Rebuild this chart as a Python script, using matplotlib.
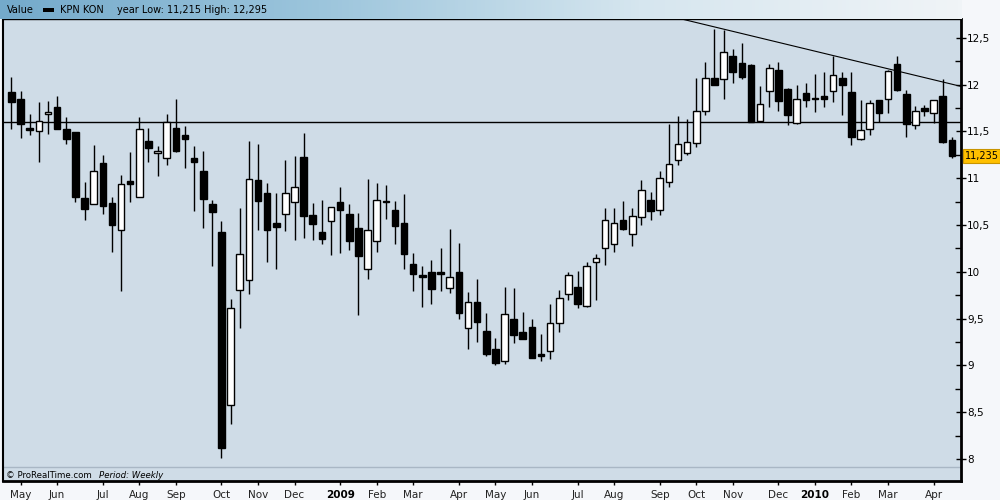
import matplotlib
matplotlib.use("Agg")
import matplotlib.pyplot as plt
import numpy as np
from matplotlib.ticker import FixedLocator, FuncFormatter
from matplotlib.colors import LinearSegmentedColormap
import matplotlib.patches as mpatches

# ---------------- data (weekly candles, KPN KON) ----------------
opens = [11.92, 11.84, 11.54, 11.50, 11.68, 11.76, 11.53, 11.49, 10.79, 10.72,
         11.16, 10.73, 10.45, 10.97, 10.80, 11.40, 11.27, 11.22, 11.54, 11.46,
         11.21, 11.08, 10.72, 10.42, 8.58, 9.80, 9.91, 10.98, 10.84, 10.52,
         10.62, 10.74, 11.23, 10.61, 10.42, 10.54, 10.74, 10.62, 10.47, 10.03,
         10.33, 10.76, 10.66, 10.52, 10.08, 9.96, 10.00, 9.99, 9.83, 10.00,
         9.40, 9.68, 9.37, 9.17, 9.05, 9.50, 9.36, 9.41, 9.12, 9.15,
         9.45, 9.76, 9.84, 9.63, 10.10, 10.25, 10.30, 10.55, 10.40, 10.58,
         10.77, 10.66, 10.96, 11.19, 11.27, 11.37, 11.72, 12.07, 12.06, 12.30,
         12.23, 12.21, 11.61, 11.93, 12.15, 11.95, 11.59, 11.91, 11.86, 11.88,
         11.93, 12.07, 11.92, 11.42, 11.53, 11.83, 11.85, 12.22, 11.90, 11.57,
         11.75, 11.70, 11.88, 11.41]
highs = [12.08, 11.93, 11.69, 11.81, 11.82, 11.88, 11.65, 11.49, 10.96, 11.35,
         11.25, 10.80, 11.03, 11.28, 11.65, 11.54, 11.34, 11.69, 11.84, 11.56,
         11.34, 11.29, 10.77, 10.54, 9.71, 10.68, 11.40, 11.36, 10.95, 10.84,
         11.19, 11.24, 11.48, 10.73, 10.77, 10.69, 10.90, 10.72, 10.63, 10.99,
         10.95, 10.93, 10.76, 10.83, 10.20, 10.06, 10.13, 10.25, 10.46, 10.31,
         9.78, 9.92, 9.56, 9.29, 9.84, 9.83, 9.57, 9.49, 9.33, 9.65,
         9.80, 10.00, 10.01, 10.10, 10.19, 10.68, 10.68, 10.76, 10.68, 10.98,
         10.85, 11.08, 11.58, 11.66, 11.63, 12.07, 12.24, 12.59, 12.58, 12.38,
         12.44, 12.22, 11.98, 12.22, 12.24, 11.96, 12.00, 12.02, 12.11, 12.13,
         12.30, 12.13, 12.13, 11.83, 11.83, 11.83, 12.15, 12.30, 11.94, 11.77,
         11.78, 11.83, 12.06, 11.44]
lows = [11.52, 11.43, 11.46, 11.17, 11.47, 11.53, 11.36, 10.75, 10.55, 10.72,
        10.62, 10.21, 9.79, 10.75, 10.80, 11.17, 11.02, 11.14, 11.28, 11.11,
        10.65, 10.47, 10.06, 8.01, 8.37, 9.40, 9.76, 10.45, 10.10, 10.03,
        10.43, 10.34, 10.36, 10.34, 10.30, 10.18, 10.20, 10.23, 9.54, 9.92,
        10.21, 10.56, 10.30, 10.03, 9.79, 9.62, 9.65, 9.79, 9.77, 9.50,
        9.17, 9.25, 9.10, 9.00, 9.01, 9.24, 9.28, 9.08, 9.05, 9.07,
        9.36, 9.70, 9.61, 9.62, 9.70, 10.07, 10.21, 10.45, 10.28, 10.50,
        10.55, 10.61, 10.91, 11.14, 11.25, 11.33, 11.67, 11.99, 11.84, 12.02,
        12.06, 11.60, 11.60, 11.76, 11.72, 11.57, 11.58, 11.76, 11.71, 11.76,
        11.81, 11.67, 11.35, 11.41, 11.46, 11.60, 11.70, 11.93, 11.44, 11.52,
        11.66, 11.59, 11.37, 11.22]
closes = [11.81, 11.58, 11.51, 11.61, 11.71, 11.53, 11.42, 10.80, 10.67, 11.08,
          10.70, 10.50, 10.94, 10.94, 11.53, 11.32, 11.29, 11.60, 11.29, 11.42,
          11.17, 10.78, 10.64, 8.12, 9.61, 10.19, 10.99, 10.76, 10.45, 10.48,
          10.84, 10.90, 10.59, 10.51, 10.35, 10.69, 10.66, 10.33, 10.17, 10.45,
          10.77, 10.74, 10.49, 10.19, 9.98, 9.94, 9.82, 9.98, 9.94, 9.56,
          9.68, 9.46, 9.12, 9.02, 9.55, 9.32, 9.28, 9.08, 9.10, 9.45,
          9.72, 9.96, 9.65, 10.06, 10.15, 10.55, 10.52, 10.46, 10.59, 10.87,
          10.65, 11.00, 11.15, 11.36, 11.39, 11.72, 12.07, 11.99, 12.35, 12.13,
          12.08, 11.60, 11.79, 12.18, 11.82, 11.67, 11.84, 11.83, 11.84, 11.84,
          12.10, 11.99, 11.44, 11.51, 11.80, 11.70, 12.14, 11.94, 11.58, 11.72,
          11.72, 11.83, 11.39, 11.235]

month_ticks = [1, 5, 10, 14, 18, 23, 27, 31, 36, 40, 44, 49,
               53, 57, 62, 66, 71, 75, 79, 84, 88, 92, 96, 101]
month_labels = ["May", "Jun", "Jul", "Aug", "Sep", "Oct", "Nov", "Dec", "2009", "Feb", "Mar", "Apr",
                "May", "Jun", "Jul", "Aug", "Sep", "Oct", "Nov", "Dec", "2010", "Feb", "Mar", "Apr"]
year_labels = ["2009", "2010"]

support_level = 11.60
trend_x = [73.4, 104.0]
trend_y = [12.70, 11.98]
last_price = 11.235

title_value = "Value"
title_name = "KPN KON"
title_range = "year Low: 11,215 High: 12,295"

# ---------------- figure ----------------
plt.rcParams['font.family'] = ['DejaVu Sans']
fig = plt.figure(figsize=(10, 5), dpi=100, facecolor="#f5f7fa")

ax = fig.add_axes([0.003, 0.038, 0.958, 0.924])
ax.set_facecolor("#cfdce7")

x = np.arange(len(opens))
o = np.array(opens)
h = np.array(highs)
l = np.array(lows)
c = np.array(closes)
up = c >= o

ax.vlines(x, l, h, color="black", linewidth=1.0, zorder=3)
body_bottom = np.minimum(o, c)
body_h = np.maximum(np.abs(c - o), 0.012)
ax.bar(x[up], body_h[up], bottom=body_bottom[up], width=0.72,
       color="white", edgecolor="black", linewidth=1.0, zorder=4)
ax.bar(x[~up], body_h[~up], bottom=body_bottom[~up], width=0.72,
       color="black", edgecolor="black", linewidth=1.0, zorder=4)

ax.axhline(support_level, color="black", linewidth=1.0, zorder=2)
ax.plot(trend_x, trend_y, color="black", linewidth=0.8, zorder=2)
ax.axhline(7.91, color="#a9b7c5", linewidth=1.0, zorder=1)

ax.set_xlim(-0.93, 104.0)
ax.set_ylim(7.764, 12.70)

# y axis on right
ax.yaxis.tick_right()
ax.yaxis.set_major_locator(FixedLocator(np.arange(8.0, 12.51, 0.5)))
ax.yaxis.set_minor_locator(FixedLocator(np.arange(8.25, 12.6, 0.5)))
ax.yaxis.set_major_formatter(FuncFormatter(lambda v, p: f"{v:g}".replace(".", ",")))
ax.tick_params(axis="y", which="major", direction="inout", length=7, width=1,
               labelsize=7.5, pad=1, colors="black")
ax.tick_params(axis="y", which="minor", direction="in", length=4, width=1)

# x axis
ax.xaxis.set_major_locator(FixedLocator(month_ticks))
ax.set_xticklabels(month_labels)
ax.tick_params(axis="x", which="major", direction="out", length=3, width=1,
               labelsize=7.5, pad=3.5, labelcolor="#222222")
for lab in ax.get_xticklabels():
    if lab.get_text() in year_labels:
        lab.set_fontweight("bold")
        lab.set_color("black")

for side in ["right", "bottom"]:
    ax.spines[side].set_linewidth(2.0)
ax.spines["left"].set_linewidth(1.5)
ax.spines["top"].set_linewidth(1.0)

# watermark strip text
fig.text(0.006, 0.05, "\u00a9 ProRealTime.com", fontsize=6.2, va="center", ha="left", color="black")
fig.text(0.099, 0.05, "Period: Weekly", fontsize=6.2, va="center", ha="left",
         color="black", style="italic")

# last price label
ax.annotate(f"{last_price:.3f}".replace(".", ","), xy=(1.0, last_price),
            xycoords=("axes fraction", "data"), xytext=(2.5, 0), textcoords="offset points",
            ha="left", va="center", fontsize=7, color="black",
            bbox=dict(boxstyle="square,pad=0.2", facecolor="#ffc000", edgecolor="#c89400", linewidth=0.8),
            annotation_clip=False, zorder=10)

# header bar with gradient
hax = fig.add_axes([0.0, 0.962, 0.962, 0.038])
cmap = LinearSegmentedColormap.from_list("hdr", ["#74aacb", "#9cc5dc", "#d6e6ef", "#f0f4f7"])
grad = np.linspace(0, 1, 256).reshape(1, -1)
hax.imshow(grad, aspect="auto", cmap=cmap, extent=[0, 962, 19, 0])
hax.set_xlim(0, 962)
hax.set_ylim(19, 0)
hax.axis("off")
hax.text(7, 10, title_value, fontsize=7, va="center", ha="left", color="black")
hax.add_patch(mpatches.Rectangle((43, 8), 11, 4, facecolor="black", edgecolor="none"))
hax.text(60, 10, title_name, fontsize=7, va="center", ha="left", color="black")
hax.text(117, 10, title_range, fontsize=7, va="center", ha="left", color="black")

fig.savefig("out.png", dpi=100, facecolor=fig.get_facecolor())
